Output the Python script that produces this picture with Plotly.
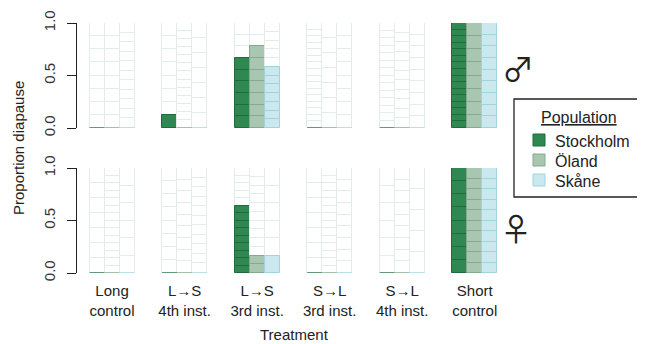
import plotly.graph_objects as go
from plotly.subplots import make_subplots

# ---------------- data ----------------
treatments = ["Long<br>control", "L→S<br>4th inst.", "L→S<br>3rd inst.",
              "S→L<br>3rd inst.", "S→L<br>4th inst.", "Short<br>control"]
populations = ["Stockholm", "Öland", "Skåne"]

# number of individuals (segments) and number in diapause, per treatment
male_n_stockholm = [8, 8, 9, 16, 14, 16]
male_k_stockholm = [0, 1, 6, 0, 0, 16]
male_n_oland = [8, 13, 9, 7, 11, 8]
male_k_oland = [0, 0, 7, 0, 0, 8]
male_n_skane = [11, 7, 12, 8, 9, 9]
male_k_skane = [0, 0, 7, 0, 0, 9]

female_n_stockholm = [7, 8, 14, 7, 6, 8]
female_k_stockholm = [0, 0, 9, 0, 0, 8]
female_n_oland = [14, 9, 12, 14, 9, 10]
female_k_oland = [0, 0, 2, 0, 0, 10]
female_n_skane = [6, 11, 6, 9, 5, 10]
female_k_skane = [0, 0, 1, 0, 0, 10]

y_ticks = [0, 0.5, 1]
y_ticktext = ["0.0", "0.5", "1.0"]

# ---------------- style ----------------
fill_colors = {"Stockholm": "#2f8752", "Öland": "#a9c6b1", "Skåne": "#cae8ee"}
edge_colors = {"Stockholm": "#206a3c", "Öland": "#86a890", "Skåne": "#9fd3de"}
zero_colors = {"Stockholm": "#5f9c74", "Öland": "#a2c0aa", "Skåne": "#b9e0e8"}
empty_edge = "#e2ecea"
FONT = "Arial, Liberation Sans, sans-serif"
SYMFONT = "Noto Sans CJK JP, DejaVu Sans, sans-serif"
BW = 0.207
offsets = [-BW, 0, BW]

panels = [
    (1, [(male_n_stockholm, male_k_stockholm), (male_n_oland, male_k_oland), (male_n_skane, male_k_skane)]),
    (2, [(female_n_stockholm, female_k_stockholm), (female_n_oland, female_k_oland), (female_n_skane, female_k_skane)]),
]

fig = make_subplots(rows=2, cols=1, shared_xaxes=True, vertical_spacing=0.16)

group_x = list(range(1, len(treatments) + 1))

for row, series in panels:
    for j, (pop, (ns, ks)) in enumerate(zip(populations, series)):
        fx, fb, fy = [], [], []
        ex, eb, ey = [], [], []
        zx, zy = [], []
        for g, n, k in zip(group_x, ns, ks):
            xc = g + offsets[j]
            for i in range(n):
                if i < k:
                    fx.append(xc); fb.append(i / n); fy.append(1 / n)
                else:
                    ex.append(xc); eb.append(i / n); ey.append(1 / n)
            if k == 0:
                zx += [xc - BW / 2, xc + BW / 2, None]
                zy += [0, 0, None]
        fig.add_trace(go.Bar(x=ex, y=ey, base=eb, width=BW, showlegend=False,
                             marker=dict(color="white", line=dict(color=empty_edge, width=1)),
                             cliponaxis=False, hoverinfo="skip"), row=row, col=1)
        fig.add_trace(go.Bar(x=fx, y=fy, base=fb, width=BW, showlegend=False,
                             marker=dict(color=fill_colors[pop], line=dict(color=edge_colors[pop], width=1)),
                             cliponaxis=False, name=pop), row=row, col=1)
        fig.add_trace(go.Scatter(x=zx, y=zy, mode="lines", showlegend=False,
                                 line=dict(color=zero_colors[pop], width=2),
                                 cliponaxis=False, hoverinfo="skip"), row=row, col=1)

OFF = 8  # page body margin offset
L, R, T, B = 77 - OFF, 511 - OFF, 23 - OFF, 273 - OFF
W, H = 645, 344

yaxis_style = dict(range=[0, 1], tickvals=y_ticks, ticktext=y_ticktext, tickangle=-90,
                   showline=True, linecolor="#222", linewidth=1.2, ticks="outside",
                   ticklen=9, tickcolor="#222", tickwidth=1.2, showgrid=False, zeroline=False,
                   ticklabelstandoff=6, automargin=False,
                   tickfont=dict(size=15, color="#333", family=FONT))
fig.update_yaxes(**yaxis_style)
fig.update_layout(yaxis=dict(domain=[(273 - 128) / 250, 1]),
                  yaxis2=dict(domain=[0, (273 - 168) / 250]))
fig.update_xaxes(range=[0.517, 6.5], showgrid=False, zeroline=False, showline=False,
                 tickvals=group_x, ticktext=treatments, ticks="", automargin=False,
                 tickfont=dict(size=15, color="#222", family=FONT))
fig.update_xaxes(showticklabels=False, row=1, col=1)
fig.update_xaxes(showticklabels=True, ticklabelstandoff=7, row=2, col=1)


def px(x):
    return (x - OFF - L) / (R - L)


def py(y):
    return (B - (y - OFF)) / (B - T)


def ann(x, y, text, size=15, xanchor="center", angle=0, family=FONT):
    return dict(x=px(x), y=py(y), text=text, showarrow=False, textangle=angle,
                xanchor=xanchor, yanchor="middle", xref="paper", yref="paper",
                font=dict(size=size, color="#222", family=family))


anns = [
    ann(18, 148, "Proportion diapause", angle=-90),
    ann(294, 334, "Treatment"),
    ann(518, 67, "♂", size=32, family=SYMFONT),
    ann(516, 227, "♀", size=32, family=SYMFONT),
    ann(579, 117, "<u>Population</u>", size=16),
]
shapes = [dict(type="rect", xref="paper", yref="paper", x0=px(514), x1=px(700),
               y0=py(197), y1=py(99), line=dict(color="#222", width=1.3), fillcolor="white",
               layer="below")]
for i, pop in enumerate(populations):
    yc = 140 + 20 * i
    shapes.append(dict(type="rect", xref="paper", yref="paper", x0=px(533), x1=px(545),
                       y0=py(yc + 6), y1=py(yc - 6), fillcolor=fill_colors[pop],
                       line=dict(color=edge_colors[pop], width=1)))
    anns.append(ann(553, yc + 1, pop, size=16, xanchor="left"))

fig.update_layout(width=W, height=H, margin=dict(l=L, r=W - R, t=T, b=H - B),
                  barmode="overlay", bargap=0, plot_bgcolor="white", paper_bgcolor="white",
                  annotations=anns, shapes=shapes, showlegend=False,
                  font=dict(family=FONT, color="#222"))

fig.write_html("out.html")
